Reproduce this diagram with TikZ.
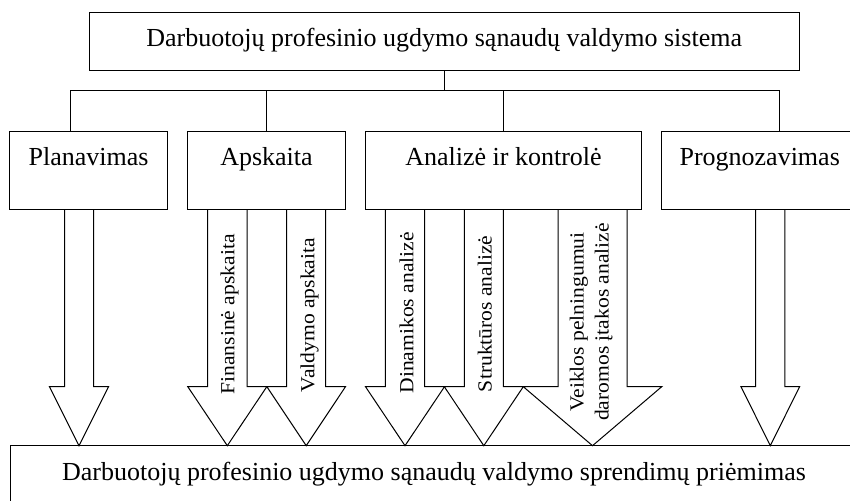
\documentclass[tikz,border=0pt]{standalone}
\usepackage{fontspec}
\setmainfont{Liberation Serif}
\newfontfamily\rotfont[FakeStretch=1.08]{Liberation Serif}
\usetikzlibrary{calc}
\newcommand\blockarrow[4]{%
  \draw[barrow] ({#2-#3},0 |- #1.south) -- ({#2-#3},386.7) -- ({#2-#4},386.7)
    -- (#2,0 |- bot.north) -- ({#2+#4},386.7) -- ({#2+#3},386.7)
    -- ({#2+#3},0 |- #1.south);}
\begin{document}
\begin{tikzpicture}[x=1pt,y=-1pt,line width=1pt,
  box/.style={draw,inner sep=0pt,outer sep=0pt,
    font=\fontsize{26}{30}\selectfont,text height=18pt},
  midbox/.style={box,minimum height=78.3pt,text depth=28.3pt},
  barrow/.style={draw,line join=miter},
  rottext/.style={rotate=90,inner sep=0pt,outer sep=0pt,
    font=\rotfont\fontsize{20}{25}\selectfont}]
\useasboundingbox (0,0) rectangle (850,500);
\clip (0,0) rectangle (850,500);
\fill[white] (0,0) rectangle (850,500);

\node[box,minimum width=710.3pt,minimum height=58.3pt,text depth=8.3pt] (top)
  at (444.15,41.85) {Darbuotojų profesinio ugdymo sąnaudų valdymo sistema};
\node[midbox,minimum width=158.4pt] (plan) at (88.5,170.15) {Planavimas};
\node[midbox,minimum width=157.6pt] (apsk) at (266.5,170.15) {Apskaita};
\node[midbox,minimum width=276.4pt] (anal) at (503.5,170.15) {Analizė ir kontrolė};
\node[midbox,minimum width=196pt] (prog) at (759.7,170.15) {Prognozavimas};
\node[box,minimum width=848pt,minimum height=60pt,text depth=9.4pt] (bot)
  at (434,475.7) {Darbuotojų profesinio ugdymo sąnaudų valdymo sprendimų priėmimas};

% tree connectors
\coordinate (j) at ($(top.south)+(0,19.7)$);
\draw (top.south) -- (j);
\draw ([xshift=60.7pt]plan.north west) |- (j);
\draw (j) -| ([xshift=117.6pt]prog.north west);
\draw (apsk.north) -- (apsk.north |- j);
\draw (anal.north) -- (anal.north |- j);

% block arrows
\blockarrow{plan}{79}{14.5}{29.5}
\blockarrow{apsk}{227.3}{19.7}{39.5}
\blockarrow{apsk}{306.2}{19.5}{39.3}
\blockarrow{anal}{405}{19.7}{39.5}
\blockarrow{anal}{483.8}{19.5}{39.5}
\blockarrow{anal}{592.5}{34.5}{69.2}
\blockarrow{prog}{770.3}{14.6}{29.3}

% arrow labels
\node[rottext,anchor=west] (fin) at (229.5,394.5) {Finansinė apskaita};
\node[rottext,anchor=west] (vald) at (309.5,392) {Valdymo apskaita};
\node[rottext,anchor=west] (din) at (406.5,393.5) {Dinamikos analizė};
\node[rottext,anchor=west] (strk) at (484.9,392) {Struktūros analizė};
\node[rottext,align=center] (veik) at (591.1,322) {Veiklos pelningumui\\daromos įtakos analizė};
\end{tikzpicture}
\end{document}
